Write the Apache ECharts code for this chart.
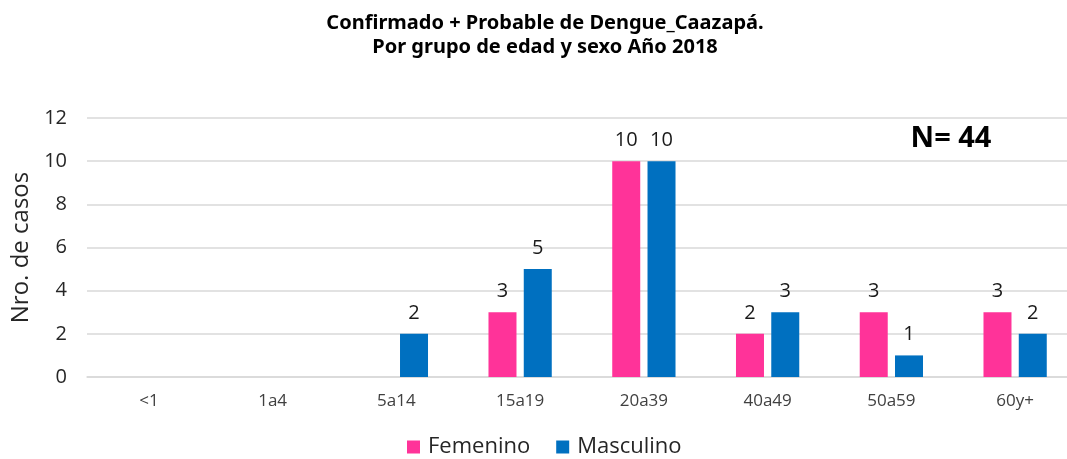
<!DOCTYPE html>
<html>
<head>
<meta charset="utf-8">
<script src="https://cdn.jsdelivr.net/npm/echarts@6/dist/echarts.min.js"></script>
<style>html,body{margin:0;padding:0;background:#fff}#c{width:1067px;height:459px}</style>
</head>
<body>
<div id="c"></div>
<script>
const categories = ['<1', '1a4', '5a14', '15a19', '20a39', '40a49', '50a59', '60y+'];
const femenino = [null, null, null, 3, 10, 2, 3, 3];
const masculino = [null, null, 2, 5, 10, 3, 1, 2];
const yTicks = [0, 2, 4, 6, 8, 10, 12];

const FONT = '"Open Sans", "Noto Sans", sans-serif';
const chart = echarts.init(document.getElementById('c'));
const labelCfg = {show: true, position: 'top', distance: 11, fontSize: 20, color: '#1a1a1a', fontFamily: FONT};
chart.setOption({
  animation: false,
  title: {
    text: 'Confirmado + Probable de Dengue_Caazapá.\nPor grupo de edad y sexo Año 2018',
    left: 540, top: 6, textAlign: 'center',
    textStyle: {fontSize: 20, fontWeight: 'bold', color: '#000', fontFamily: '"Noto Sans", sans-serif', lineHeight: 24}
  },
  legend: {
    data: ['Femenino', 'Masculino'],
    left: 407, top: 436, padding: 0,
    itemWidth: 13, itemHeight: 13, itemGap: 26,
    icon: 'rect',
    textStyle: {fontSize: 22, color: '#262626', fontFamily: FONT, padding: [0, 0, 0, 3]}
  },
  grid: {left: 87, width: 990, top: 118, height: 259, outerBoundsMode: 'none', containLabel: false},
  xAxis: {
    type: 'category', data: categories,
    axisLine: {lineStyle: {color: '#d9d9d9', width: 1.5}},
    axisTick: {show: false},
    axisLabel: {fontSize: 17, color: '#404040', margin: 16, fontFamily: FONT}
  },
  yAxis: {
    type: 'value', min: yTicks[0], max: yTicks[yTicks.length - 1], interval: 2,
    name: 'Nro. de casos', nameLocation: 'middle', nameGap: 50,
    nameTextStyle: {fontSize: 24, color: '#262626', fontFamily: FONT},
    axisLine: {show: false}, axisTick: {show: false},
    axisLabel: {fontSize: 20, color: '#262626', margin: 20, fontFamily: FONT},
    splitLine: {lineStyle: {color: '#d9d9d9', width: 1.5}}
  },
  series: [
    {name: 'Femenino', type: 'bar', data: femenino, barWidth: 28, barGap: '26%',
     itemStyle: {color: '#FF3399'}, label: labelCfg},
    {name: 'Masculino', type: 'bar', data: masculino, barWidth: 28, barGap: '26%',
     itemStyle: {color: '#0070C0'}, label: labelCfg}
  ],
  graphic: [{
    type: 'text', x: 951, y: 139,
    style: {text: 'N= 44', font: 'bold 29px "Noto Sans", sans-serif', fill: '#000',
            align: 'center', verticalAlign: 'middle'}
  }]
});
</script>
</body>
</html>
